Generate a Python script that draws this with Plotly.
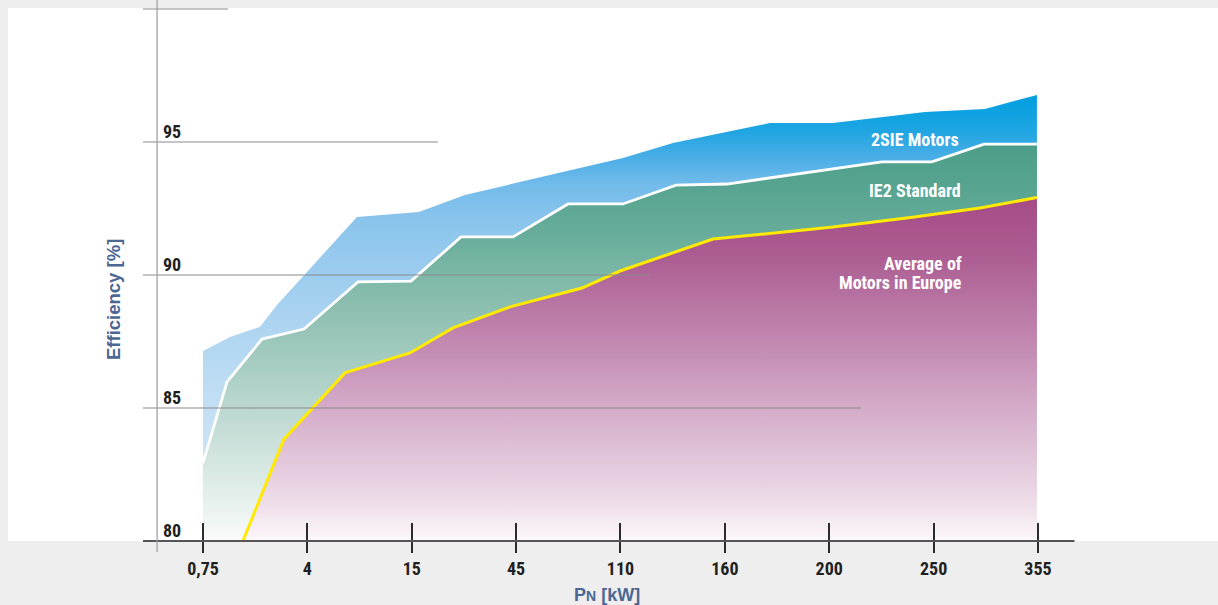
import plotly.graph_objects as go

# ---------------- data ----------------
power_labels = ["0,75", "4", "15", "45", "110", "160", "200", "250", "355"]
tick_pos = list(range(len(power_labels)))

# x in category units (0 = 0,75 kW ... 8 = 355 kW), y = efficiency [%]
sie_x = [0.0, 0.259, 0.546, 0.709, 1.475, 2.069, 2.510, 4.024, 4.503, 5.432, 6.036, 6.917, 7.492, 7.990]
sie_y = [87.14, 87.67, 88.05, 88.87, 92.18, 92.37, 93.01, 94.40, 94.96, 95.71, 95.71, 96.13, 96.24, 96.77]

ie2_x = [0.0, 0.230, 0.565, 0.968, 1.485, 1.993, 2.472, 2.970, 3.497, 4.024, 4.532, 5.020, 6.505, 6.984, 7.483, 7.990]
ie2_y = [82.93, 85.98, 87.59, 87.97, 89.74, 89.77, 91.43, 91.43, 92.67, 92.67, 93.38, 93.42, 94.25, 94.25, 94.92, 94.92]

avg_x = [0.383, 0.776, 1.360, 1.983, 2.395, 2.941, 3.631, 3.995, 4.886, 6.036, 6.780, 7.444, 7.990]
avg_y = [80.00, 83.83, 86.32, 87.07, 88.01, 88.80, 89.51, 90.15, 91.35, 91.80, 92.16, 92.52, 92.91]

y_ticks = [80, 85, 90, 95]
y_min = 80

# ---------------- styling ----------------
NARROW = "Roboto Condensed, Liberation Sans Narrow, Arial Narrow, sans-serif"
WIDE = "Liberation Sans, Arial, sans-serif"
TITLE_COLOR = "#4b6792"
TEXT_DARK = "#1f1f22"

W, H = 1218, 605
X_RANGE = [-1.945, 9.725]
Y_RANGE = [77.594, 100.338]


def closed(xs, ys, base):
    px = [xs[0]] + list(xs) + [xs[-1], xs[0]]
    py = [base] + list(ys) + [base, base]
    return px, py


fig = go.Figure()

# 2SIE area (blue)
bx, by = closed(sie_x, sie_y, y_min)
fig.add_trace(go.Scatter(
    x=bx, y=by, mode="lines", fill="toself", line=dict(width=0),
    fillgradient=dict(type="vertical", start=y_min, stop=max(sie_y), colorscale=[
        [0.0, "#e6f1fa"], [0.18, "#cfe4f6"], [0.36, "#bcdcf3"], [0.47, "#afd5f1"],
        [0.72, "#8ac4ec"], [0.80, "#72bbea"], [0.86, "#4aaee6"], [0.92, "#1ea5e2"],
        [1.0, "#009fe0"]]),
    hoverinfo="skip", showlegend=False))

# IE2 area (green)
gx, gy = closed(ie2_x, ie2_y, y_min)
fig.add_trace(go.Scatter(
    x=gx, y=gy, mode="lines", fill="toself", line=dict(width=0),
    fillgradient=dict(type="vertical", start=y_min, stop=max(ie2_y), colorscale=[
        [0.0, "#f9fbfa"], [0.154, "#dcebe6"], [0.28, "#c5ddd6"], [0.406, "#aed1c7"],
        [0.531, "#97c4b7"], [0.657, "#80b9a9"], [0.758, "#6aae9c"], [0.884, "#58a591"],
        [1.0, "#4c9e88"]]),
    hoverinfo="skip", showlegend=False))

# Average area (purple)
ax_, ay_ = closed(avg_x, avg_y, y_min)
fig.add_trace(go.Scatter(
    x=ax_, y=ay_, mode="lines", fill="toself", line=dict(width=0),
    fillgradient=dict(type="vertical", start=y_min, stop=max(avg_y), colorscale=[
        [0.0, "#fcf8fb"], [0.12, "#eddbe8"], [0.265, "#dfc1d7"], [0.411, "#d2a7c6"],
        [0.557, "#c48cb3"], [0.70, "#b774a2"], [0.82, "#ad5e93"], [1.0, "#a54b86"]]),
    hoverinfo="skip", showlegend=False))

# IE2 boundary line (white)
fig.add_trace(go.Scatter(x=ie2_x, y=ie2_y, mode="lines",
                         line=dict(color="white", width=2.8), hoverinfo="skip", showlegend=False))
# Average boundary line (yellow)
fig.add_trace(go.Scatter(x=avg_x, y=avg_y, mode="lines",
                         line=dict(color="#ffea00", width=3), hoverinfo="skip", showlegend=False))

# dummy trace so that the overlay axis (upper tick halves) is drawn
fig.add_trace(go.Scatter(x=[tick_pos[0]], y=[y_min], xaxis="x2", mode="markers",
                         marker=dict(size=0.1, opacity=0), hoverinfo="skip", showlegend=False))

# ---------------- decorations ----------------
shapes = []
# white panel
shapes.append(dict(type="rect", xref="paper", yref="paper", x0=8 / W, x1=1, y0=64 / H, y1=(H - 8) / H,
                   fillcolor="white", line=dict(width=0), layer="below"))
# staggered grid lines (100, 95, 90, 85)
grid_start = -0.575
grid_ends = {100: 0.24, 95: 2.25, 90: 4.28, 85: 6.30}
for val, end in grid_ends.items():
    shapes.append(dict(type="line", xref="x", yref="y", x0=grid_start, x1=end, y0=val, y1=val,
                       line=dict(color="#8a8a8e", width=1.2), layer="above"))
# x axis base line
shapes.append(dict(type="line", xref="x", yref="y", x0=grid_start, x1=8.35, y0=y_min, y1=y_min,
                   line=dict(color="#555558", width=1.8), layer="above"))
# y axis line
shapes.append(dict(type="line", xref="x", yref="y", x0=-0.44, x1=-0.44, y0=79.586, y1=Y_RANGE[1],
                   line=dict(color="#a0a0a6", width=1.3), layer="above"))

label_font = dict(family=NARROW, size=18, color="white")
annotations = [
    dict(text="<b>2SIE Motors</b>", x=6.822, y=95.08, xref="x", yref="y", showarrow=False,
         font=label_font, xanchor="center", yanchor="middle"),
    dict(text="<b>IE2 Standard</b>", x=6.822, y=93.16, xref="x", yref="y", showarrow=False,
         font=label_font, xanchor="center", yanchor="middle"),
    dict(text="<b>Average of</b>", x=7.29, y=90.45, xref="x", yref="y",
         showarrow=False, xanchor="right", yanchor="middle", font=label_font),
    dict(text="<b>Motors in Europe</b>", x=7.29, y=89.70, xref="x", yref="y",
         showarrow=False, xanchor="right", yanchor="middle", font=label_font),
    dict(text="<b>Efficiency [%]</b>", x=113 / W, y=(H - 300) / H, xref="paper", yref="paper",
         showarrow=False, textangle=-90, xanchor="center", yanchor="middle",
         font=dict(family=WIDE, size=18.5, color=TITLE_COLOR)),
    dict(text="<b>P<span style='font-size:14px'>N</span> [kW]</b>", x=607 / W, y=(H - 595) / H,
         xref="paper", yref="paper", showarrow=False, xanchor="center", yanchor="middle",
         font=dict(family=WIDE, size=18, color=TITLE_COLOR)),
]

fig.update_layout(
    width=W, height=H,
    margin=dict(l=0, r=0, t=0, b=0),
    paper_bgcolor="#eeeeee",
    plot_bgcolor="rgba(0,0,0,0)",
    showlegend=False,
    shapes=shapes,
    annotations=annotations,
    xaxis=dict(domain=[0, 1], range=X_RANGE, anchor="free", position=64 / H,
               tickmode="array", tickvals=tick_pos, ticktext=power_labels,
               ticks="outside", ticklen=11, tickwidth=2.4, tickcolor="#2b2b30",
               tickfont=dict(family=NARROW, size=18, color=TEXT_DARK, weight="bold"),
               showgrid=False, zeroline=False, showline=False, fixedrange=True),
    xaxis2=dict(overlaying="x", matches="x", anchor="free", position=64 / H,
                tickmode="array", tickvals=tick_pos, ticks="inside", ticklen=18, tickwidth=2.4,
                tickcolor="#2b2b30", showticklabels=False, showgrid=False, zeroline=False,
                showline=False, side="bottom"),
    yaxis=dict(domain=[0, 1], range=Y_RANGE, anchor="free", position=157 / W,
               tickmode="array", tickvals=y_ticks, ticks="", ticklabelposition="inside",
               ticklabelshift=-10, ticklabelstandoff=2,
               tickfont=dict(family=NARROW, size=18, color=TEXT_DARK, weight="bold"),
               showgrid=False, zeroline=False, showline=False, fixedrange=True),
)

fig.write_html(
    "out.html",
    config={"displayModeBar": False},
    post_script="document.body.style.margin='0px';document.body.style.background='#eeeeee';",
)
